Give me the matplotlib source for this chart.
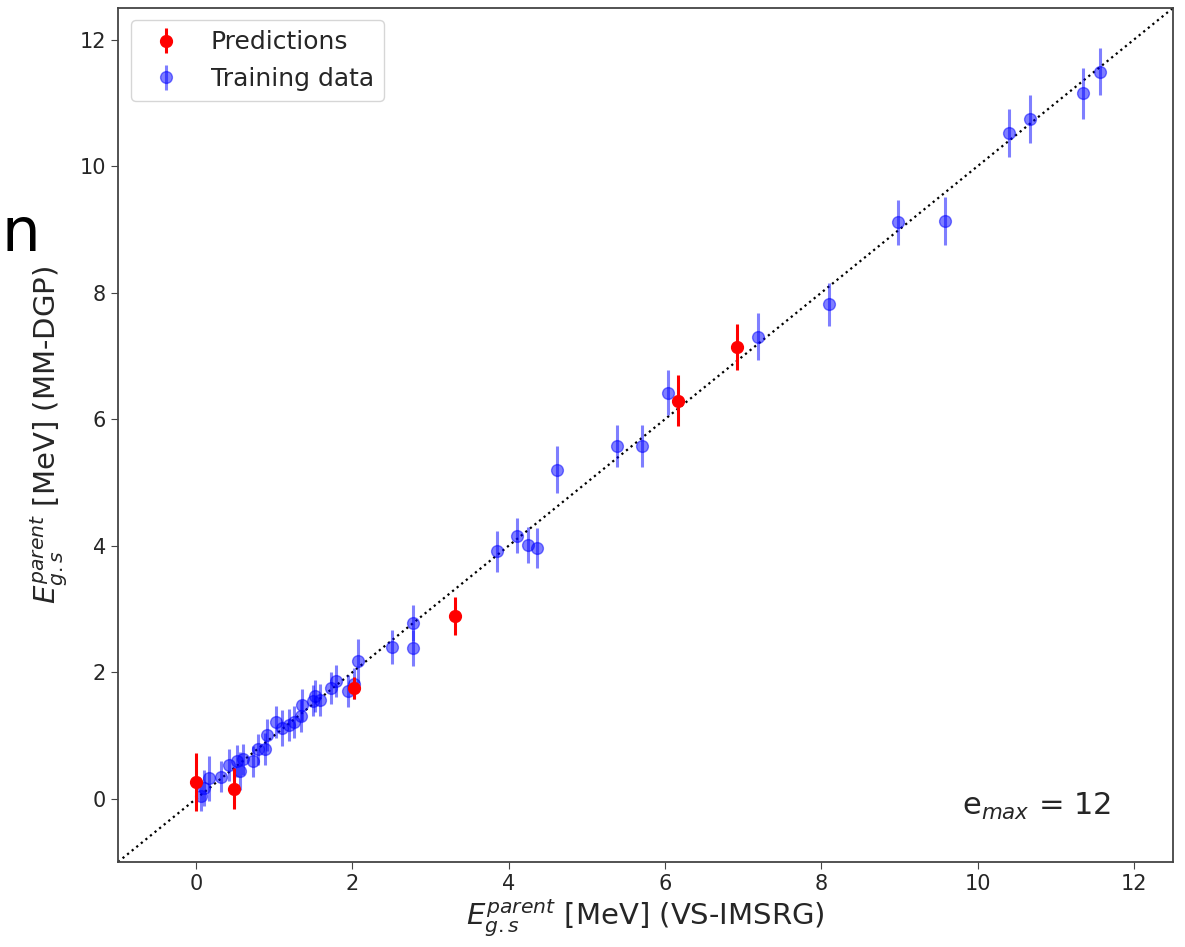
import matplotlib
matplotlib.use("Agg")
import matplotlib.pyplot as plt

# predictions (red)
pred_x = [0.00, 0.48, 2.02, 3.31, 6.17, 6.92]
pred_y = [0.26, 0.16, 1.75, 2.89, 6.29, 7.14]
pred_err = [0.46, 0.33, 0.17, 0.30, 0.40, 0.37]

# training data (blue)
train_x = [0.06, 0.10, 0.17, 0.32, 0.42, 0.52, 0.56, 0.60, 0.73, 0.79,
           0.88, 0.91, 1.02, 1.10, 1.19, 1.25, 1.34, 1.36, 1.50, 1.52,
           1.58, 1.73, 1.79, 1.94, 2.02, 2.07, 2.51, 2.78, 2.78, 3.85,
           4.11, 4.25, 4.36, 4.62, 5.39, 5.71, 6.04, 7.19, 8.10, 8.98,
           9.58, 10.40, 10.67, 11.35, 11.56]
train_y = [0.05, 0.17, 0.32, 0.35, 0.53, 0.60, 0.44, 0.62, 0.59, 0.78,
           0.79, 1.01, 1.21, 1.12, 1.17, 1.21, 1.31, 1.48, 1.55, 1.62,
           1.56, 1.75, 1.86, 1.70, 1.82, 2.18, 2.40, 2.78, 2.38, 3.91,
           4.16, 4.01, 3.96, 5.20, 5.58, 5.58, 6.42, 7.30, 7.82, 9.11,
           9.13, 10.53, 10.74, 11.15, 11.49]
train_err = [0.25, 0.28, 0.35, 0.25, 0.25, 0.25, 0.30, 0.25, 0.25, 0.25,
             0.25, 0.25, 0.25, 0.28, 0.25, 0.25, 0.25, 0.25, 0.25, 0.25,
             0.25, 0.25, 0.25, 0.25, 0.25, 0.35, 0.27, 0.28, 0.28, 0.32,
             0.28, 0.28, 0.32, 0.37, 0.33, 0.33, 0.36, 0.37, 0.34, 0.36,
             0.38, 0.38, 0.38, 0.40, 0.37]

lims = [-1, 12.5]
txt = "#262626"

fig = plt.figure(figsize=(11.85, 9.47), dpi=100)
ax = fig.add_axes([0.0996, 0.0898, 0.8903, 0.9018])

ax.plot(lims, lims, "k:", lw=1.6, zorder=1)
h_train = ax.errorbar(train_x, train_y, yerr=train_err, fmt="o", color="b",
                      alpha=0.5, ms=8.5, elinewidth=2.2, zorder=2,
                      label="Training data")
h_pred = ax.errorbar(pred_x, pred_y, yerr=pred_err, fmt="o", color="red",
                     ms=8.5, elinewidth=2.2, zorder=3, label="Predictions")

ax.set_xlim(lims)
ax.set_ylim(lims)
ax.set_xticks([0, 2, 4, 6, 8, 10, 12])
ax.set_yticks([0, 2, 4, 6, 8, 10, 12])
ax.tick_params(labelsize=15, length=5, labelcolor=txt, color="#444444")
for s in ax.spines.values():
    s.set_color("#444444")
    s.set_linewidth(1.3)

ax.set_xlabel(r"$E_{g.s}^{parent}$ [MeV] (VS-IMSRG)", fontsize=21,
              labelpad=2, color=txt)
ax.set_ylabel(r"$E_{g.s}^{parent}$ [MeV] (MM-DGP)", fontsize=21,
              labelpad=8, color=txt)

leg = ax.legend(handles=[h_pred, h_train], loc="upper left", fontsize=18)
for t in leg.get_texts():
    t.set_color(txt)
ax.text(0.80, 0.055, r"e$_{max}$ = 12", transform=ax.transAxes,
        fontsize=22, color=txt)

# leftover glyph from the slide at the left edge
fig.text(0.001, 0.735, "n", fontsize=44, ha="left", va="baseline")

fig.savefig("out.png", dpi=100)
